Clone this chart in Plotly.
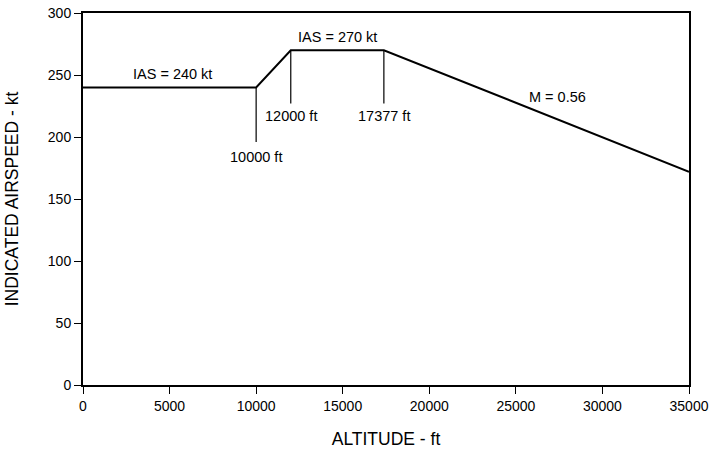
import plotly.graph_objects as go

# Climb schedule
altitude_ft = [0, 10000, 12000, 17377, 35000]
ias_kt = [240, 240, 270, 270, 172]

# Reference drop lines at transition altitudes
mark_alt = [10000, 12000, 17377]
mark_top = [240, 270, 270]
mark_bottom = [196, 227, 227]
mark_labels = ["10000 ft", "12000 ft", "17377 ft"]
mark_label_y = [184, 217, 217]

# Segment labels
seg_labels = ["IAS = 240 kt", "IAS = 270 kt", "M = 0.56"]
seg_x = [5170, 14700, 27400]
seg_y = [251, 281, 232]

x_ticks = [0, 5000, 10000, 15000, 20000, 25000, 30000, 35000]
y_ticks = [0, 50, 100, 150, 200, 250, 300]

FONT = "Liberation Sans, Arial, Helvetica, sans-serif"

fig = go.Figure()
fig.add_trace(go.Scatter(x=altitude_ft, y=ias_kt, mode="lines",
                         line=dict(color="black", width=2), showlegend=False,
                         hoverinfo="skip"))
for a, t, b in zip(mark_alt, mark_top, mark_bottom):
    fig.add_trace(go.Scatter(x=[a, a], y=[t, b], mode="lines",
                             line=dict(color="black", width=1.2), showlegend=False,
                             hoverinfo="skip"))

annotations = []
for txt, x, y in zip(mark_labels, mark_alt, mark_label_y):
    annotations.append(dict(x=x, y=y, text=txt, showarrow=False,
                            font=dict(size=14.5, color="black", family=FONT)))
for txt, x, y in zip(seg_labels, seg_x, seg_y):
    annotations.append(dict(x=x, y=y, text=txt, showarrow=False,
                            font=dict(size=14.5, color="black", family=FONT)))

fig.update_layout(
    width=714, height=450,
    margin=dict(l=83, r=25, t=13, b=65),
    plot_bgcolor="white", paper_bgcolor="white",
    font=dict(family=FONT, color="black", size=14),
    annotations=annotations,
    xaxis=dict(range=[0, 35000], tickvals=x_ticks, tickformat="d", ticks="outside", ticklen=7,
               tickwidth=1.2, tickcolor="black", showline=True, linecolor="black",
               linewidth=2, mirror=True, showgrid=False, zeroline=False,
               automargin=False,
               title=dict(text="ALTITUDE - ft", font=dict(size=17.5), standoff=20),
               tickfont=dict(size=14)),
    yaxis=dict(range=[0, 300], tickvals=y_ticks, tickformat="d", ticks="outside", ticklen=7,
               tickwidth=1.2, tickcolor="black", showline=True, linecolor="black",
               linewidth=2, mirror=True, showgrid=False, zeroline=False,
               automargin=False,
               title=dict(text="INDICATED AIRSPEED - kt", font=dict(size=17.5), standoff=25),
               tickfont=dict(size=14)),
)

fig.write_html("out.html", config={"displayModeBar": False},
               post_script="document.body.style.margin='0';")
